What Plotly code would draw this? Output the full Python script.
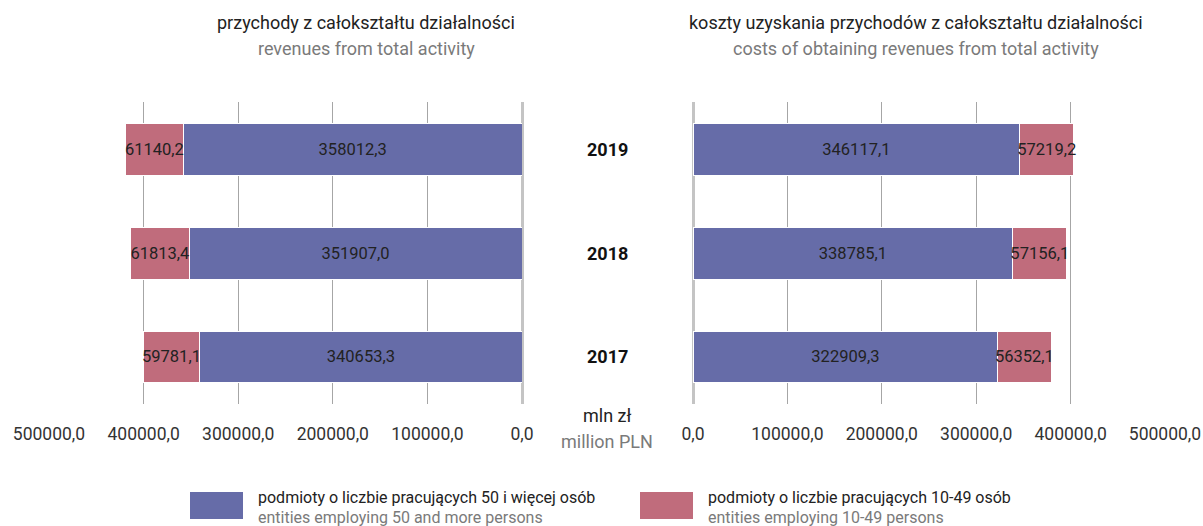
import plotly.graph_objects as go

years = ["2017", "2018", "2019"]
rev_large = [340653.3, 351907.0, 358012.3]
rev_small = [59781.1, 61813.4, 61140.2]
cost_large = [322909.3, 338785.1, 346117.1]
cost_small = [56352.1, 57156.1, 57219.2]
tick_vals = [0, 100000, 200000, 300000, 400000, 500000]

series_names = ["podmioty o liczbie pracujących 50 i więcej osób",
                "podmioty o liczbie pracujących 10-49 osób"]
series_names_en = ["entities employing 50 and more persons",
                   "entities employing 10-49 persons"]

BLUE = "#666ca8"
PINK = "#c06c7c"
FONT = "Roboto, sans-serif"
W, H = 1203, 526


def fmt(v):
    return f"{v:.1f}".replace(".", ",")


def px_x(p):
    return p / W


def px_y(p):
    return 1 - p / H


fig = go.Figure()

bar_common = dict(orientation="h", width=0.5, textposition="inside",
                  insidetextanchor="middle", constraintext="none", textangle=0,
                  textfont=dict(family=FONT, size=16.5, color="#222222"),
                  marker_line=dict(color="white", width=1), showlegend=False,
                  hoverinfo="x+y")

fig.add_trace(go.Bar(y=years, x=rev_large, text=[fmt(v) for v in rev_large],
                     marker_color=BLUE, xaxis="x", yaxis="y", **bar_common))
fig.add_trace(go.Bar(y=years, x=rev_small, text=[fmt(v) for v in rev_small],
                     marker_color=PINK, xaxis="x", yaxis="y", **bar_common))
fig.add_trace(go.Bar(y=years, x=cost_large, text=[fmt(v) for v in cost_large],
                     marker_color=BLUE, xaxis="x2", yaxis="y2", **bar_common))
fig.add_trace(go.Bar(y=years, x=cost_small, text=[fmt(v) for v in cost_small],
                     marker_color=PINK, xaxis="x2", yaxis="y2", **bar_common))

ydom = [px_y(404), px_y(102)]
xaxis_common = dict(tickvals=tick_vals, tickformat=".1f", showgrid=True,
                    gridcolor="#a6a6a6", gridwidth=1, zeroline=True,
                    zerolinecolor="#c4c4c4", zerolinewidth=3, showline=False,
                    ticks="outside", ticklen=14, tickcolor="rgba(0,0,0,0)",
                    tickangle=0, automargin=False,
                    tickfont=dict(family=FONT, size=17.5, color="#333333"),
                    fixedrange=True)
yaxis_common = dict(domain=ydom, range=[-0.452, 2.452], showticklabels=False,
                    showgrid=False, zeroline=False, type="category",
                    automargin=False, fixedrange=True,
                    categoryorder="array", categoryarray=years)

fig.update_layout(
    width=W, height=H, barmode="stack", separators=", ",
    margin=dict(l=0, r=0, t=0, b=0, autoexpand=False),
    paper_bgcolor="white", plot_bgcolor="white",
    font=dict(family=FONT, color="#222222"),
    xaxis=dict(domain=[px_x(49), px_x(522)], range=[500000, 0], anchor="y",
               **xaxis_common),
    yaxis=dict(anchor="x", **yaxis_common),
    xaxis2=dict(domain=[px_x(693), px_x(1165)], range=[0, 500000], anchor="y2",
                **xaxis_common),
    yaxis2=dict(anchor="x2", **yaxis_common),
)

ann = []
# titles
ann.append(dict(x=px_x(366), y=px_y(22), text="przychody z całokształtu działalności",
                font=dict(size=18, color="#222222")))
ann.append(dict(x=px_x(366), y=px_y(49), text="revenues from total activity",
                font=dict(size=18, color="#7a7a7a")))
ann.append(dict(x=px_x(916), y=px_y(22), text="koszty uzyskania przychodów z całokształtu działalności",
                font=dict(size=18, color="#222222")))
ann.append(dict(x=px_x(916), y=px_y(49), text="costs of obtaining revenues from total activity",
                font=dict(size=18, color="#7a7a7a")))
# unit
ann.append(dict(x=px_x(607), y=px_y(415), text="mln zł", font=dict(size=18, color="#222222")))
ann.append(dict(x=px_x(607), y=px_y(441), text="million PLN", font=dict(size=18, color="#7a7a7a")))
for a in ann:
    a.update(xref="paper", yref="paper", showarrow=False, xanchor="center", yanchor="middle")

# year labels (category index positions on the right panel's y axis)
for i, yr in enumerate(years):
    ann.append(dict(x=px_x(607), xref="paper", y=i, yref="y2", text=f"<b>{yr}</b>",
                    showarrow=False, xanchor="center", yanchor="middle",
                    font=dict(size=18, color="#111111")))

# legend
shapes = []
for i, (col, x0) in enumerate([(BLUE, 190), (PINK, 640)]):
    shapes.append(dict(type="rect", xref="paper", yref="paper",
                       x0=px_x(x0), x1=px_x(x0 + 53), y0=px_y(519), y1=px_y(492),
                       fillcolor=col, line=dict(width=0)))
    ann.append(dict(x=px_x(x0 + 66), y=px_y(497), xref="paper", yref="paper",
                    text=series_names[i], showarrow=False, xanchor="left", yanchor="middle",
                    font=dict(size=16, color="#222222")))
    ann.append(dict(x=px_x(x0 + 66), y=px_y(517), xref="paper", yref="paper",
                    text=series_names_en[i], showarrow=False, xanchor="left", yanchor="middle",
                    font=dict(size=16, color="#7a7a7a")))

fig.update_layout(annotations=ann, shapes=shapes)
fig.write_html("out.html", config={"displayModeBar": False},
               post_script="document.body.style.margin='0';document.body.style.overflow='hidden';")
